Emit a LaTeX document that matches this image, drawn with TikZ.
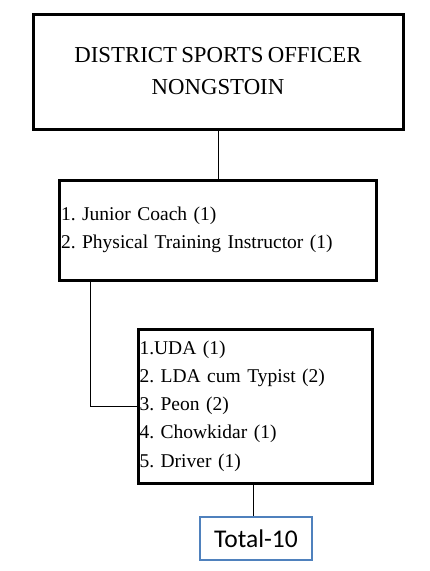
\documentclass[tikz,border=0pt]{standalone}
\usepackage{fontspec}
\setmainfont[WordSpace=0.75]{Liberation Serif}
\newfontfamily\calibrifont{Carlito}
\usetikzlibrary{calc}
\definecolor{boxblue}{HTML}{4F81BD}
\frenchspacing
\begin{document}
\begin{tikzpicture}[x=1pt,y=-1pt,
  orgbox/.style={draw=black,line width=3pt,rectangle,inner ysep=0pt},
  link/.style={draw=black,line width=0.8pt},
  totalbox/.style={draw=boxblue,line width=2pt,rectangle,inner sep=0pt}]
\useasboundingbox (0,0) rectangle (430,571);
\node[orgbox,minimum width=370pt,minimum height=115pt,align=center,
  font=\fontsize{22.8}{32}\selectfont] (b1) at (218,71.5)
  {DISTRICT SPORTS OFFICER\\NONGSTOIN};
\node[orgbox,minimum width=317pt,minimum height=100pt,inner xsep=2pt,text width=313pt,align=left,
  font=\fontsize{19.5}{28}\selectfont] (b2) at (217.5,230)
  {1. Junior Coach (1)\\2. Physical Training Instructor (1)};
\node[orgbox,minimum width=234pt,minimum height=154pt,inner xsep=1pt,text width=232pt,align=left,
  font=\fontsize{19.5}{28.3}\selectfont] (b3) at (255.5,406)
  {1.UDA (1)\\2. LDA cum Typist (2)\\3. Peon (2)\\4. Chowkidar (1)\\5. Driver (1)};
\node[totalbox,minimum width=112pt,minimum height=43pt,
  font=\calibrifont\fontsize{25.5}{28}\selectfont] (t) at (256,538.5) {Total-10};
\draw[link] (b1.south) -- (b1.south |- b2.north);
\draw[link] ($(b2.south west)+(33,0)$) |- (b3.west);
\draw[link] ($(b3.south)+(-2.5,0)$) -- ($(b3.south |- t.north)+(-2.5,0)$);
\end{tikzpicture}
\end{document}
